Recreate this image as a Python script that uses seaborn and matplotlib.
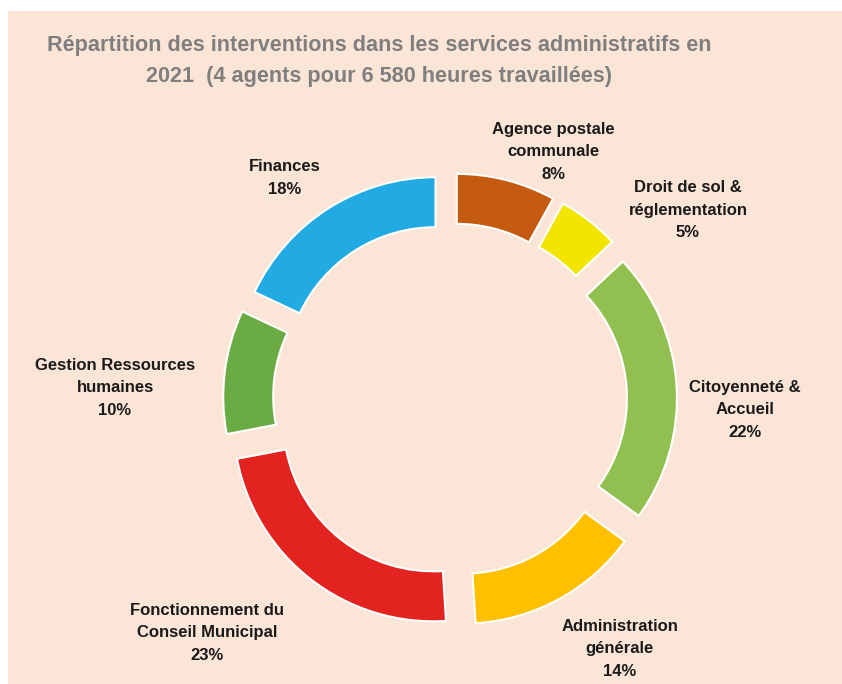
import matplotlib.pyplot as plt
import matplotlib.font_manager as fm
from matplotlib.patches import Rectangle
import seaborn as sns

# data
services = ["Agence postale\ncommunale", "Droit de sol &\nréglementation", "Citoyenneté &\nAccueil",
            "Administration\ngénérale", "Fonctionnement du\nConseil Municipal",
            "Gestion Ressources\nhumaines", "Finances"]
shares = [8, 5, 22, 14, 23, 10, 18]
colors = ["#C55A11", "#F2E500", "#92C050", "#FFC000", "#E32320", "#6AAB44", "#22AAE2"]

# label placement (in pie-radius units)
label_xy = [(0.515, 1.24), (1.19, 0.95), (1.475, -0.05), (0.85, -1.245),
            (-1.215, -1.165), (-1.675, 0.06), (-0.825, 1.11)]

sns.set_style("white")
names = {f.name for f in fm.fontManager.ttflist}
font = "Liberation Sans Narrow" if "Liberation Sans Narrow" in names else "Liberation Sans"
plt.rcParams["font.family"] = [font, "DejaVu Sans"]

bg = "#FBE5D6"
fig = plt.figure(figsize=(8.42, 6.84), dpi=100, facecolor="white")
fig.patches.append(Rectangle((8 / 842, 0), 1, 1 - 11 / 684, transform=fig.transFigure,
                             facecolor=bg, edgecolor="none", zorder=-10))

ax = fig.add_axes([0, 0, 1, 1], zorder=1)
ax.set_facecolor("none")
ax.pie(shares, colors=colors, startangle=90, counterclock=False,
       explode=[0.135] * len(shares), radius=1,
       wedgeprops=dict(width=0.25, edgecolor="white", linewidth=1.5))

for name, val, (x, y) in zip(services, shares, label_xy):
    ax.text(x, y, f"{name}\n{val}%", ha="center", va="center", fontsize=12,
            fontweight="bold", color="#1a1a1a", linespacing=1.62)

ax.set_xlim(-450 / 200, (842 - 450) / 200)
ax.set_ylim(-(684 - 400) / 200, 400 / 200)
ax.axis("off")

fig.text(379 / 842, 1 - 61 / 684,
         "Répartition des interventions dans les services administratifs en\n"
         "2021  (4 agents pour 6 580 heures travaillées)",
         ha="center", va="center", fontsize=15.6, fontweight="bold", color="#7F7F7F",
         linespacing=1.6, zorder=2)

fig.savefig("out.png", dpi=100, facecolor="white")
